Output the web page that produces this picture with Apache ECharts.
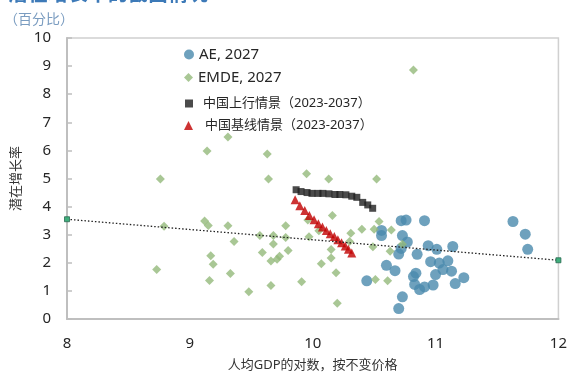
<!DOCTYPE html>
<html>
<head>
<meta charset="utf-8">
<script src="https://cdn.jsdelivr.net/npm/echarts@6/dist/echarts.min.js"></script>
<style>
  html, body { margin: 0; padding: 0; background: #fff; }
  #chart { width: 570px; height: 377px; }
</style>
</head>
<body>
<div id="chart"></div>
<script>
// Advanced economies, 2027: log GDP per capita vs potential growth (%)
const aeX = [10.72, 10.76, 10.91, 11.63, 11.73, 11.75, 10.56, 10.56, 10.73, 10.77,
             10.72, 10.70, 10.85, 10.94, 11.01, 11.14, 10.60, 10.67, 10.44, 10.96,
             11.03, 11.10, 11.06, 11.13, 11.00, 10.84, 10.82, 11.23, 11.16, 10.83,
             10.91, 10.87, 10.98, 10.73, 10.70];
const aeY = [3.50, 3.52, 3.50, 3.47, 3.02, 2.48, 3.15, 2.97, 2.97, 2.74,
             2.51, 2.31, 2.30, 2.61, 2.48, 2.58, 1.91, 1.72, 1.36, 2.04,
             1.99, 2.07, 1.76, 1.70, 1.58, 1.63, 1.51, 1.47, 1.26, 1.23,
             1.14, 1.05, 1.21, 0.79, 0.37];

// Emerging market and developing economies, 2027
const emdeX = [8.73, 8.76, 8.79, 9.12, 9.15, 9.14, 9.17, 9.19, 9.16, 9.31,
               9.31, 9.33, 9.36, 9.48, 9.57, 9.59, 9.63, 9.64, 9.68, 9.68,
               9.66, 9.71, 9.73, 9.78, 9.78, 9.80, 9.66, 9.91, 9.95, 9.96,
               9.97, 10.05, 10.07, 10.13, 10.15, 10.15, 10.16, 10.19, 10.20, 10.31,
               10.30, 10.40, 10.50, 10.52, 10.54, 10.49, 10.51, 10.63, 10.61, 10.64,
               10.73, 10.82];
const emdeY = [1.76, 4.98, 3.30, 3.49, 3.33, 5.98, 2.25, 1.95, 1.37, 6.48,
               3.32, 1.62, 2.76, 0.97, 2.97, 2.37, 5.87, 4.98, 2.97, 2.67,
               2.06, 2.13, 2.23, 3.32, 2.90, 2.44, 1.19, 1.33, 5.17, 3.52,
               2.93, 3.14, 1.97, 4.98, 2.17, 2.47, 3.68, 1.65, 0.56, 3.05,
               2.76, 3.19, 3.19, 4.98, 3.47, 2.57, 1.41, 2.41, 1.36, 3.17,
               2.66, 8.86];

// China, upside scenario (2023-2037)
const cnUpX = [9.865, 9.905, 9.954, 9.994, 10.043, 10.083, 10.132, 10.181, 10.221, 10.270,
               10.318, 10.359, 10.407, 10.448, 10.488];
const cnUpY = [4.60, 4.535, 4.50, 4.47, 4.47, 4.47, 4.455, 4.43, 4.43, 4.42,
               4.37, 4.33, 4.15, 4.06, 3.94];

// China, baseline scenario (2023-2037)
const cnBaseX = [9.857, 9.895, 9.935, 9.973, 10.011, 10.046, 10.079, 10.111, 10.143, 10.176,
                 10.205, 10.235, 10.265, 10.291, 10.318];
const cnBaseY = [4.24, 4.03, 3.86, 3.68, 3.53, 3.39, 3.27, 3.15, 3.03, 2.94,
                 2.82, 2.71, 2.60, 2.48, 2.35];

// Linear trend across the cross-section
const trendX = [8, 12];
const trendY = [3.55, 2.09];

const xTicks = { min: 8, max: 12, interval: 1 };
const yTicks = { min: 0, max: 10, interval: 1 };

const NAME_AE = 'AE, 2027';
const NAME_EMDE = 'EMDE, 2027';
const NAME_UP = '中国上行情景（2023-2037）';
const NAME_BASE = '中国基线情景（2023-2037）';

const zip = (xs, ys) => xs.map((x, i) => [x, ys[i]]);
const FONT = '"Noto Sans", "Noto Sans CJK SC", sans-serif';

const chart = echarts.init(document.getElementById('chart'), null, { renderer: 'canvas' });

const legendBase = {
  orient: 'vertical',
  left: 184,
  itemWidth: 10,
  itemHeight: 10,
  padding: 0,
  selectedMode: false,
  textStyle: { fontFamily: FONT, color: '#262626' }
};

chart.setOption({
  animation: false,
  backgroundColor: '#ffffff',
  textStyle: { fontFamily: FONT },
  title: [
    {
      text: '潜在增长率的截面情况',
      left: 8,
      top: -15,
      padding: 0,
      textStyle: { fontSize: 20, fontWeight: 'bold', color: '#3d7ab8', fontFamily: FONT }
    },
    {
      text: '（百分比）',
      left: 4,
      top: 13,
      padding: 0,
      textStyle: { fontSize: 14, fontWeight: 'normal', color: '#7a9cc0', fontFamily: FONT }
    }
  ],
  legend: [
    Object.assign({}, legendBase, { data: [NAME_AE], top: 47,
      textStyle: Object.assign({}, legendBase.textStyle, { fontSize: 15 }) }),
    Object.assign({}, legendBase, { data: [NAME_EMDE], top: 70, itemWidth: 9, itemHeight: 9,
      textStyle: Object.assign({}, legendBase.textStyle, { fontSize: 15 }) }),
    Object.assign({}, legendBase, { data: [NAME_UP], top: 97, left: 185, itemWidth: 8, itemHeight: 8,
      textStyle: Object.assign({}, legendBase.textStyle, { fontSize: 13, padding: [0, 0, 0, 5] }) }),
    Object.assign({}, legendBase, { data: [NAME_BASE], top: 119, left: 184, itemWidth: 9, itemHeight: 9,
      textStyle: Object.assign({}, legendBase.textStyle, { fontSize: 13, padding: [0, 0, 0, 7] }) })
  ],
  grid: {
    left: 67,
    right: 9,
    top: 38,
    bottom: 53,
    show: true,
    borderColor: '#d0d0d0',
    borderWidth: 1.5,
    containLabel: false
  },
  xAxis: {
    type: 'value',
    min: xTicks.min,
    max: xTicks.max,
    interval: xTicks.interval,
    name: '人均GDP的对数，按不变价格',
    nameLocation: 'middle',
    nameGap: 40,
    nameTextStyle: { fontSize: 13, color: '#333', fontFamily: FONT },
    axisLine: { show: true, lineStyle: { color: '#bfbfbf', width: 2 } },
    axisTick: { show: false },
    splitLine: { show: false },
    axisLabel: { fontSize: 15, color: '#262626', margin: 17, fontFamily: FONT }
  },
  yAxis: {
    type: 'value',
    min: yTicks.min,
    max: yTicks.max,
    interval: yTicks.interval,
    name: '潜在增长率',
    nameLocation: 'middle',
    nameRotate: 90,
    nameGap: 42,
    nameTextStyle: { fontSize: 13, color: '#333', fontFamily: FONT },
    axisLine: { show: true, lineStyle: { color: '#bfbfbf', width: 2 } },
    axisTick: { show: true, inside: true, length: 5, lineStyle: { color: '#bfbfbf', width: 1.5 } },
    splitLine: { show: false },
    axisLabel: { fontSize: 15, color: '#262626', margin: 16, fontFamily: FONT }
  },
  series: [
    {
      name: NAME_AE,
      type: 'scatter',
      symbol: 'circle',
      symbolSize: 11,
      itemStyle: { color: '#4a89ad' },
      data: zip(aeX, aeY),
      z: 2
    },
    {
      name: NAME_EMDE,
      type: 'scatter',
      symbol: 'diamond',
      symbolSize: 9,
      itemStyle: { color: '#94b97b' },
      data: zip(emdeX, emdeY),
      z: 3
    },
    {
      name: NAME_UP,
      type: 'scatter',
      symbol: 'rect',
      symbolSize: 7,
      itemStyle: { color: '#1e1e1e' },
      data: zip(cnUpX, cnUpY),
      z: 4
    },
    {
      name: NAME_BASE,
      type: 'scatter',
      symbol: 'triangle',
      symbolSize: 9,
      itemStyle: { color: '#c00000' },
      data: zip(cnBaseX, cnBaseY),
      z: 5
    },
    {
      name: 'trend',
      type: 'line',
      data: zip(trendX, trendY),
      symbol: 'rect',
      symbolSize: 5,
      showSymbol: true,
      itemStyle: { color: '#3fae7c', borderColor: '#2a6a50', borderWidth: 0.8 },
      lineStyle: { color: '#222', width: 1.3, type: [1.5, 2] },
      silent: true,
      clip: false,
      z: 6
    }
  ]
});
</script>
</body>
</html>
